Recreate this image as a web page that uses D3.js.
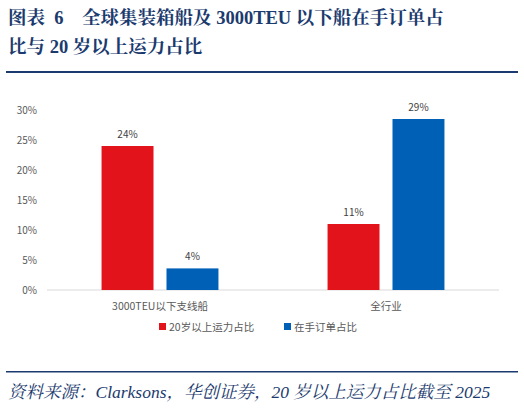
<!DOCTYPE html>
<html><head><meta charset="utf-8">
<script src="https://cdn.jsdelivr.net/npm/d3@7"></script>
<style>
body{margin:0;background:#fff;}
svg{display:block;}
text{white-space:pre;}
</style></head><body>
<svg id="c" width="524" height="408"></svg>
<script>
const categories = ['3000TEU以下支线船', '全行业'];
const seriesNames = ['20岁以上运力占比', '在手订单占比'];
const agedShare = [24, 11];
const orderShare = [3.6, 28.5];
const yTicks = [0, 5, 10, 15, 20, 25, 30];
const colors = ['#e3131c', '#0060b6'];

const svg = d3.select('#c');
const navy = '#1b3a6e';
const cjk = '"Noto Sans CJK SC", sans-serif';
const serif = '"Liberation Serif", "Noto Serif CJK SC", "Noto Sans CJK SC", serif';

//title
svg.append('text').attr('x', 8).attr('y', 24)
    .style('font-family', serif).style('font-weight', 'bold').style('font-size', '18.5px')
    .attr('fill', navy).text('图表  6    全球集装箱船及 3000TEU 以下船在手订单占');
svg.append('text').attr('x', 8).attr('y', 53)
    .style('font-family', serif).style('font-weight', 'bold').style('font-size', '18.5px')
    .attr('fill', navy).text('比与 20 岁以上运力占比');
svg.append('rect').attr('x', 6).attr('y', 71).attr('width', 512).attr('height', 2).attr('fill', navy);

//chart
const m = {l: 47, r: 25, t: 110, b: 118};
const w = 524 - m.l - m.r, h = 408 - m.t - m.b;
const g = svg.append('g').attr('transform', `translate(${m.l},${m.t})`);

const x = d3.scaleBand().domain(categories).range([0, w]).paddingInner(0).paddingOuter(0);
const x1 = d3.scaleBand().domain(seriesNames).range([0, x.bandwidth()]).paddingInner(0.2).paddingOuter(0.84);
const y = d3.scaleLinear().domain([0, 30]).range([h, 0]);

g.append('line').attr('x1', 0).attr('x2', w).attr('y1', h).attr('y2', h).attr('stroke', '#d9d9d9');

g.selectAll('.ytick').data(yTicks).join('text')
    .attr('x', -10).attr('y', d => y(d) + 4)
    .attr('text-anchor', 'end').style('font-family', cjk).style('font-size', '10px')
    .attr('fill', '#595959').text(d => d + '%');

const rows = categories.map((c, i) => ({c, vals: [agedShare[i], orderShare[i]]}));
const grp = g.selectAll('.grp').data(rows).join('g').attr('transform', d => `translate(${x(d.c)},0)`);
const bars = grp.selectAll('g').data(d => d.vals.map((v, j) => ({v, s: seriesNames[j], j}))).join('g');
bars.append('rect')
    .attr('x', d => x1(d.s)).attr('width', x1.bandwidth())
    .attr('y', d => y(d.v)).attr('height', d => h - y(d.v))
    .attr('fill', d => colors[d.j]);
bars.append('text')
    .attr('x', d => x1(d.s) + x1.bandwidth() / 2).attr('y', d => y(d.v) - 8)
    .attr('text-anchor', 'middle').style('font-family', cjk).style('font-size', '10px')
    .attr('fill', '#404040').text(d => Math.round(d.v) + '%');

g.selectAll('.xl').data(categories).join('text')
    .attr('x', d => x(d) + x.bandwidth() / 2).attr('y', h + 20)
    .attr('text-anchor', 'middle').style('font-family', cjk).style('font-size', '10.5px')
    .attr('fill', '#595959').text(d => d);

//legend
const lg = svg.append('g').attr('transform', 'translate(159,327)');
const lx = [0, 125];
seriesNames.forEach((s, i) => {
    lg.append('rect').attr('x', lx[i]).attr('y', -4).attr('width', 7).attr('height', 7).attr('fill', colors[i]);
    lg.append('text').attr('x', lx[i] + 10).attr('y', 4).style('font-family', cjk).style('font-size', '10.5px')
        .attr('fill', '#595959').text(s);
});

//footer
svg.append('rect').attr('x', 6).attr('y', 371).attr('width', 512).attr('height', 1.5).attr('fill', navy);
svg.append('text').attr('x', 8).attr('y', 398)
    .style('font-family', serif).style('font-style', 'italic').style('font-size', '17.5px')
    .attr('fill', navy).text('资料来源：Clarksons，华创证券，20 岁以上运力占比截至 2025');
</script>
</body></html>
